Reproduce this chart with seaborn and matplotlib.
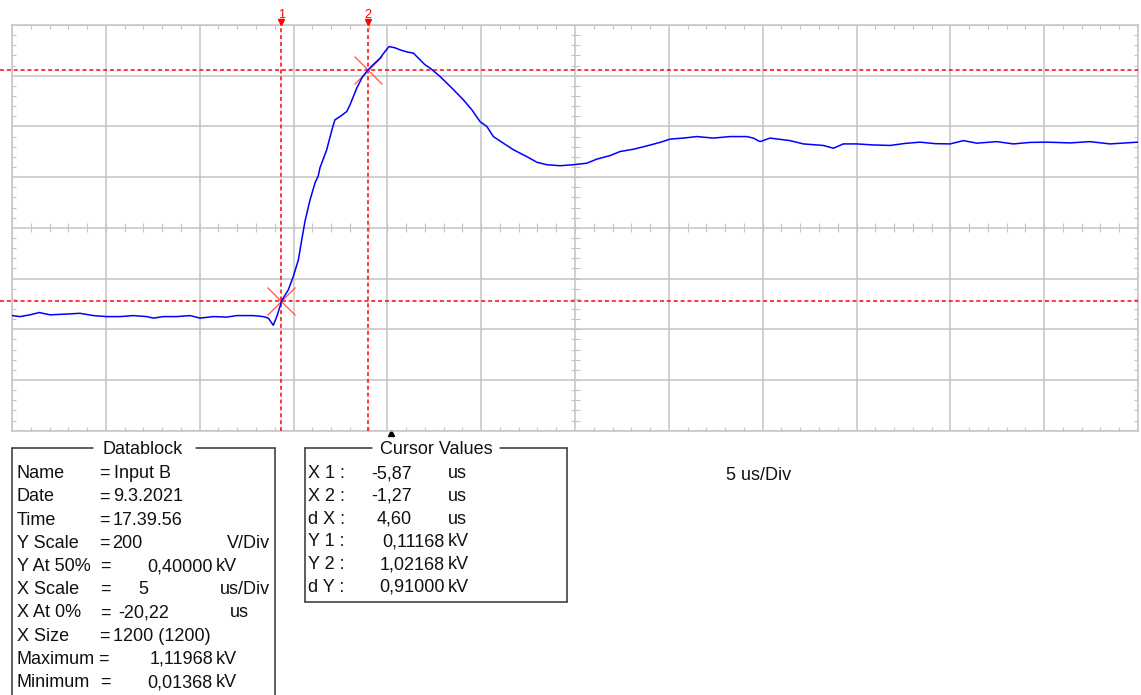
import numpy as np
import pandas as pd
import matplotlib
matplotlib.use("Agg")
import matplotlib.pyplot as plt
from matplotlib.lines import Line2D
import seaborn as sns

W, H = 1141, 695

# trace (time in us, voltage in kV)
t_us = [-20.22, -19.79, -19.26, -18.77, -18.20, -17.30, -16.60, -15.89, -15.17, -14.46,
        -13.76, -13.04, -12.69, -12.16, -11.44, -10.73, -10.20, -9.49, -8.78, -8.25,
        -7.36, -6.83, -6.56, -6.30, -6.11, -5.94, -5.85, -5.50, -5.23, -4.96,
        -4.78, -4.61, -4.34, -4.07, -3.90, -3.81, -3.45, -3.36, -3.10, -3.01,
        -2.74, -2.38, -2.21, -1.85, -1.57, -1.32, -1.04, -0.61, -0.34, -0.13,
        0.19, 0.46, 0.81, 1.17, 1.52, 1.79, 2.06, 2.59, 3.21, 3.83,
        4.28, 4.72, 5.08, 5.43, 5.96, 6.50, 7.21, 7.74, 8.27, 8.99,
        9.70, 10.41, 10.94, 11.65, 12.18, 12.89, 13.60, 14.31, 14.85, 15.55,
        16.27, 17.15, 18.04, 18.93, 19.28, 19.64, 20.17, 21.24, 21.95, 23.01,
        23.55, 24.08, 24.79, 25.66, 26.57, 27.37, 28.17, 28.97, 29.77, 30.48,
        31.19, 32.25, 33.14, 34.03, 34.92, 36.16, 37.23, 38.29, 39.78]
v_kv = [0.054, 0.050, 0.057, 0.066, 0.057, 0.060, 0.063, 0.054, 0.050, 0.050,
        0.054, 0.050, 0.044, 0.050, 0.050, 0.054, 0.044, 0.050, 0.048, 0.054,
        0.054, 0.050, 0.044, 0.016, 0.050, 0.090, 0.113, 0.155, 0.208, 0.274,
        0.353, 0.425, 0.510, 0.578, 0.605, 0.637, 0.708, 0.734, 0.806, 0.826,
        0.839, 0.859, 0.885, 0.951, 0.992, 1.017, 1.039, 1.069, 1.096, 1.115,
        1.110, 1.102, 1.094, 1.089, 1.063, 1.043, 1.030, 0.997, 0.952, 0.905,
        0.866, 0.819, 0.800, 0.760, 0.734, 0.708, 0.681, 0.659, 0.649, 0.645,
        0.649, 0.655, 0.671, 0.685, 0.701, 0.710, 0.723, 0.737, 0.750, 0.754,
        0.760, 0.754, 0.760, 0.760, 0.754, 0.740, 0.754, 0.744, 0.731, 0.725,
        0.714, 0.731, 0.731, 0.727, 0.725, 0.733, 0.738, 0.732, 0.731, 0.744,
        0.734, 0.740, 0.731, 0.737, 0.738, 0.735, 0.740, 0.731, 0.738]

cursor_x = [-5.87, -1.27]
cursor_y = [0.11168, 1.02168]

x_at_0 = -20.22
x_per_div = 5
y_at_50 = 0.4
y_per_div = 0.2
n_xdiv, n_ydiv = 12, 8

db_labels = ["Name", "Date", "Time", "Y Scale", "Y At 50%", "X Scale",
             "X At 0%", "X Size", "Maximum", "Minimum"]
db_values = ["Input B", "9.3.2021", "17.39.56", "200", "0,40000", "5",
             "-20,22", "1200 (1200)", "1,11968", "0,01368"]
db_units = ["", "", "", "V/Div", "kV", "us/Div", "us", "", "kV", "kV"]

cv_labels = ["X 1 :", "X 2 :", "d X :", "Y 1 :", "Y 2 :", "d Y :"]
cv_values = ["-5,87", "-1,27", "4,60", "0,11168", "1,02168", "0,91000"]
cv_units = ["us", "us", "us", "kV", "kV", "kV"]

GRID = "#c4c4c4"
CUR = "#ff0000"
BOX = "#333333"
FS = 13

sns.set_style("white")
plt.rcParams['font.family'] = ['Liberation Sans', 'DejaVu Sans']

fig = plt.figure(figsize=(W / 100, H / 100), dpi=100)
ax = fig.add_axes([12 / W, 1 - 430.7 / H, 1126 / W, 405.7 / H])

xmin, xmax = x_at_0, x_at_0 + n_xdiv * x_per_div
ymin = y_at_50 - n_ydiv / 2 * y_per_div
ymax = y_at_50 + n_ydiv / 2 * y_per_div
ax.set_xlim(xmin, xmax)
ax.set_ylim(ymin, ymax)

xmaj = np.linspace(xmin, xmax, n_xdiv + 1)
ymaj = np.linspace(ymin, ymax, n_ydiv + 1)
xmin_t = np.linspace(xmin, xmax, n_xdiv * 5 + 1)
ymin_t = np.linspace(ymin, ymax, n_ydiv * 5 + 1)
ax.set_xticks(xmaj)
ax.set_yticks(ymaj)
ax.set_xticks(xmin_t, minor=True)
ax.set_yticks(ymin_t, minor=True)
ax.grid(True, which='major', color=GRID, lw=1.1)
ax.tick_params(which='major', length=0, labelbottom=False, labelleft=False)
ax.tick_params(which='minor', direction='in', length=3.2, width=0.8, color=GRID,
               top=True, bottom=True, left=True, right=True)
for s in ax.spines.values():
    s.set_color(GRID)
    s.set_linewidth(1.1)

# small ticks across the centre lines
xc = (xmin + xmax) / 2
px_x = (xmax - xmin) / 1126
px_y = (ymax - ymin) / 405.7
ax.hlines(ymin_t, xc - 4.5 * px_x, xc + 4.5 * px_x, color=GRID, lw=0.8)
ax.vlines(xmin_t, y_at_50 - 4.5 * px_y, y_at_50 + 4.5 * px_y, color=GRID, lw=0.8)

# cursors
for i, x in enumerate(cursor_x):
    ax.axvline(x, color=CUR, lw=1.1, ls=(0, (2.6, 1.9)), zorder=3)
    ax.plot([x], [1.0067], marker='v', ms=4.5, color=CUR, transform=ax.get_xaxis_transform(),
            clip_on=False, zorder=4)
    ax.annotate(str(i + 1), xy=(x, 1), xycoords=('data', 'axes fraction'),
                xytext=(0, 7.5), textcoords='offset points', ha='center', va='center',
                color=CUR, fontsize=9)
for y in cursor_y:
    ax.axhline(y, xmin=-12 / 1126, xmax=1, color=CUR, lw=1.1, ls=(0, (2.6, 1.9)),
               clip_on=False, zorder=3)
ax.plot(cursor_x, cursor_y, ls='none', marker='x', ms=20, mew=0.9, color='#ff5050', zorder=4)

# trigger marker
ax.plot([0], [-0.0057], marker='^', ms=4.5, color='black', transform=ax.get_xaxis_transform(),
        clip_on=False)

df = pd.DataFrame({'t': t_us, 'v': v_kv})
sns.lineplot(data=df, x='t', y='v', ax=ax, color='#0000ff', lw=1.1,
             estimator=None, sort=False, zorder=5)
ax.set_xlabel('')
ax.set_ylabel('')


def ftxt(x, y, s, **kw):
    fig.text(x / W, 1 - (y + 6.5) / H, s, fontsize=FS, va='baseline', color='#111111', **kw)


def fline(xs, ys):
    fig.add_artist(Line2D([x / W for x in xs], [1 - y / H for y in ys], color=BOX, lw=1.1))


# Datablock
fline([12, 93], [447.5, 447.5])
fline([196, 275], [447.5, 447.5])
fline([12, 12], [447.5, 700])
fline([275, 275], [447.5, 700])
ftxt(143, 448, "Datablock", ha='center')
db_eq_x = [99, 99, 99, 99, 100, 100, 100, 99, 98, 100]
db_val = [(114, 'left'), (113, 'left'), (113, 'left'), (112, 'left'), (213, 'right'),
          (138, 'left'), (118, 'left'), (113, 'left'), (213, 'right'), (213, 'right')]
db_unit = [None, None, None, (270, 'right'), (216, 'left'), (270, 'right'),
           (230, 'left'), None, (216, 'left'), (216, 'left')]
for i, lab in enumerate(db_labels):
    y = 471.7 + 23.2 * i
    ftxt(17, y, lab)
    ftxt(db_eq_x[i], y, "=")
    ftxt(db_val[i][0], y, db_values[i], ha=db_val[i][1])
    if db_units[i]:
        ftxt(db_unit[i][0], y, db_units[i], ha=db_unit[i][1])

# Cursor Values
fline([305, 372], [447.5, 447.5])
fline([500, 567], [447.5, 447.5])
fline([305, 305], [447.5, 601.7])
fline([567, 567], [447.5, 601.7])
fline([305, 567], [601.7, 601.7])
ftxt(436, 448, "Cursor Values", ha='center')
for i, lab in enumerate(cv_labels):
    y = 471.7 + 22.7 * i
    ftxt(308, y, lab)
    ftxt(412 if i < 3 else 445, y, cv_values[i], ha='right')
    ftxt(448, y, cv_units[i])

ftxt(726, 473, "5 us/Div")

fig.savefig("out.png", dpi=100, facecolor='white')
